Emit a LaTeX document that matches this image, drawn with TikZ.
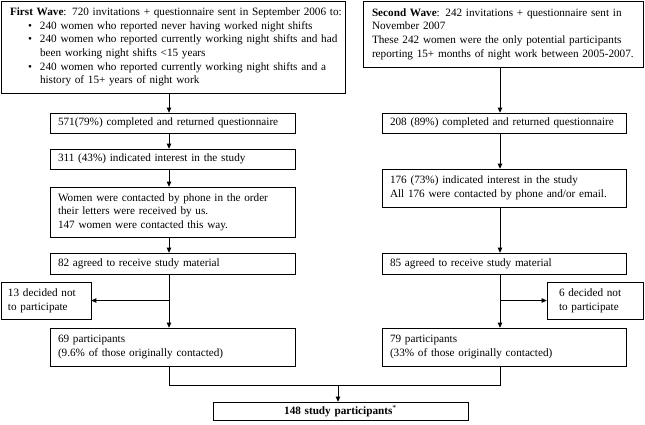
\documentclass[tikz,border=0pt]{standalone}
\usepackage{fontspec}
\setmainfont{Liberation Serif}
\usetikzlibrary{arrows.meta}
\begin{document}
\begin{tikzpicture}[x=1pt,y=-1pt,
  bx/.style={draw, line width=0.7pt, inner xsep=8pt, inner ysep=0pt, align=left,
    font=\fontsize{11.2}{13.6}\selectfont, anchor=center},
  arr/.style={line width=0.8pt, -{Triangle[length=5pt,width=4.5pt]}},
  ln/.style={line width=0.8pt}]
\useasboundingbox (0,0) rectangle (645,424);
\coordinate (colL) at (169,0);
\coordinate (colR) at (500,0);
\coordinate (mid) at (338,385);
% left column
\node[bx, inner xsep=5pt, text width=334pt, minimum height=92pt] (fw) at (173,47)
 {\mbox{\hspace*{4pt}\textbf{First Wave}: 720 invitations + questionnaire sent in September 2006 to:}\\
  \mbox{\hspace*{22pt}\makebox[12pt][l]{\textbullet}240 women who reported never having worked night shifts}\\
  \mbox{\hspace*{22pt}\makebox[12pt][l]{\textbullet}240 women who reported currently working night shifts and had}\\
  \mbox{\hspace*{34pt}been working night shifts <15 years}\\
  \mbox{\hspace*{22pt}\makebox[12pt][l]{\textbullet}240 women who reported currently working night shifts and a}\\
  \mbox{\hspace*{34pt}history of 15+ years of night work}};
\node[bx, text width=229pt, minimum height=20pt] (q1) at (172.5,123) {571(79\%) completed and returned questionnaire};
\node[bx, text width=229pt, minimum height=20pt] (q2) at (172.5,159) {311 (43\%) indicated interest in the study};
\node[bx, text width=229pt, minimum height=50pt] (q3) at (172.5,212) {Women were contacted by phone in the order\\their letters were received by us.\\147 women were contacted this way.};
\node[bx, text width=229pt, minimum height=21pt] (q4) at (172.5,263.5) {82 agreed to receive study material};
\node[bx, inner xsep=7pt, text width=76pt, minimum height=37pt] (q5) at (46,300.5) {13 decided not\\to participate};
\node[bx, text width=229pt, minimum height=38pt] (q6) at (172.5,347) {69 participants\\(9.6\% of those originally contacted)};
% right column
\node[bx, inner xsep=5pt, text width=270pt, minimum height=66pt] (sw) at (503,34)
 {\mbox{\hspace*{4pt}\textbf{Second Wave}: 242 invitations + questionnaire sent in}\\
  \mbox{\hspace*{4pt}November 2007}\\
  \mbox{\hspace*{4pt}These 242 women were the only potential participants}\\
  \mbox{\hspace*{4pt}reporting 15+ months of night work between 2005-2007.}};
\node[bx, text width=228pt, minimum height=20pt] (r1) at (504,123) {208 (89\%) completed and returned questionnaire};
\node[bx, text width=228pt, minimum height=38pt] (r2) at (504,188) {176 (73\%) indicated interest in the study\\All 176 were contacted by phone and/or email.};
\node[bx, text width=228pt, minimum height=21pt] (r3) at (504,263.5) {85 agreed to receive study material};
\node[bx, inner xsep=12pt, text width=72pt, minimum height=37pt] (r4) at (595,300.5) {6 decided not\\to participate};
\node[bx, text width=228pt, minimum height=38pt] (r5) at (504,347) {79 participants\\(33\% of those originally contacted)};
% final
\node[bx, align=center, text width=239pt, minimum height=18pt] (fin) at (340.5,411) {\textbf{148 study participants}\textsuperscript{*}};
% connectors left
\draw[arr] (fw.south -| colL) -- (q1.north -| colL);
\draw[arr] (q1.south -| colL) -- (q2.north -| colL);
\draw[arr] (q2.south -| colL) -- (q3.north -| colL);
\draw[arr] (q3.south -| colL) -- (q4.north -| colL);
\draw[arr] (q4.south -| colL) -- (q6.north -| colL);
\draw[arr] (q5.east -| colL) -- (q5.east);
% connectors right
\draw[arr] (sw.south -| colR) -- (r1.north -| colR);
\draw[arr] (r1.south -| colR) -- (r2.north -| colR);
\draw[arr] (r2.south -| colR) -- (r3.north -| colR);
\draw[arr] (r3.south -| colR) -- (r5.north -| colR);
\draw[arr] (r4.west -| colR) -- (r4.west);
% merge
\draw[ln] (q6.south -| colL) |- (mid);
\draw[ln] (r5.south -| colR) |- (mid);
\draw[arr] (mid) -- (fin.north -| mid);
\end{tikzpicture}
\end{document}
